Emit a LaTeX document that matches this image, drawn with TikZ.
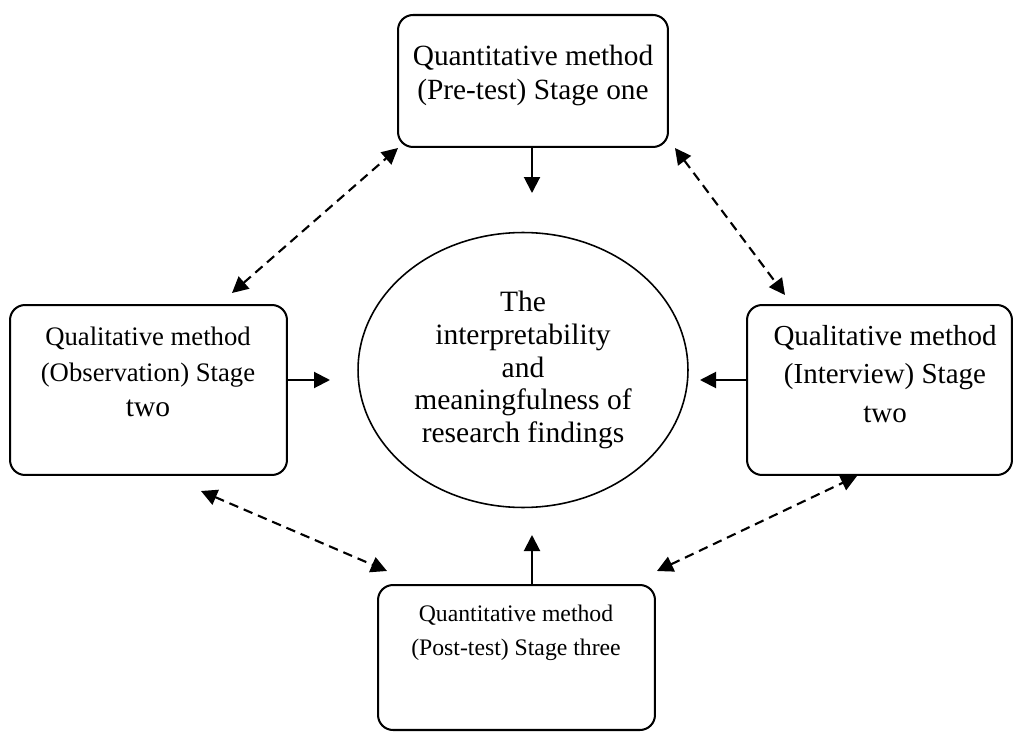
\documentclass[tikz,border=0pt]{standalone}
\usepackage{fontspec}
\setmainfont{Liberation Serif}
\usetikzlibrary{arrows.meta,shapes.geometric}

\begin{document}
\begin{tikzpicture}[x=0.02cm,y=-0.02cm,
  stagebox/.style={draw, line width=1.15pt, rounded corners=0.3cm, inner sep=0pt},
  hub/.style={draw, ellipse, line width=0.9pt, inner sep=0pt,
    minimum width=6.6cm, minimum height=5.5cm, align=center},
  boxtext/.style={align=center, inner sep=0pt},
  flow/.style={line width=1.15pt, -{Triangle[length=0.32cm,width=0.32cm]}},
  link/.style={line width=1.2pt, dash pattern=on 0.19cm off 0.12cm,
    {Triangle[length=0.32cm,width=0.32cm]}-{Triangle[length=0.32cm,width=0.32cm]}}]

\useasboundingbox (0,0) rectangle (1014,733);

% central outcome
\node[hub, font=\fontsize{16.8}{18.7}\selectfont] (hub) at (523,370)
  {The\\interpretability\\and\\meaningfulness of\\research findings};

% the four stages
\node[stagebox, minimum width=5.4cm, minimum height=2.64cm] (pre) at (533,81) {};
\node[boxtext, font=\fontsize{16.7}{19.8}\selectfont] (pretext) at (533,75.5)
  {Quantitative method\\(Pre-test) Stage one};

\node[stagebox, minimum width=5.54cm, minimum height=3.4cm] (obs) at (148.5,390) {};
\node[boxtext, font=\fontsize{15.2}{20.1}\selectfont] (obstext) at (148,372)
  {Qualitative method\\(Observation) Stage\\{\fontsize{16.8}{20.1}\selectfont two}};

\node[stagebox, minimum width=5.3cm, minimum height=3.4cm] (int) at (879.5,390) {};
\node[boxtext, font=\fontsize{16.5}{22.1}\selectfont] (inttext) at (885,374)
  {Qualitative method\\(Interview) Stage\\two};

\node[stagebox, minimum width=5.54cm, minimum height=2.9cm] (post) at (516.5,657.5) {};
\node[boxtext, font=\fontsize{13.5}{19.3}\selectfont] (posttext) at (516,633)
  {Quantitative method\\(Post-test) Stage three};

% solid arrows towards the centre
\coordinate (preTip) at (532,193);
\coordinate (obsTip) at (330,380);
\coordinate (intTip) at (700,380);
\coordinate (postTip) at (532,535);
\draw[flow] (pre.south -| preTip) -- (preTip);
\draw[flow] (obs.east |- obsTip) -- (obsTip);
\draw[flow] (int.west |- intTip) -- (intTip);
\draw[flow] (post.north -| postTip) -- (postTip);

% dashed two-way links between neighbouring stages
\coordinate (preL) at (398,148);
\coordinate (obsU) at (232,293);
\coordinate (preR) at (675,148);
\coordinate (intU) at (785,295);
\coordinate (obsD) at (201,491);
\coordinate (postL) at (387,571);
\coordinate (intD) at (857,476);
\coordinate (postR) at (657,571);
\draw[link] (obsU) -- (preL);
\draw[link] (preR) -- (intU);
\draw[link] (obsD) -- (postL);
\draw[link] (postR) -- (intD);
\end{tikzpicture}
\end{document}
